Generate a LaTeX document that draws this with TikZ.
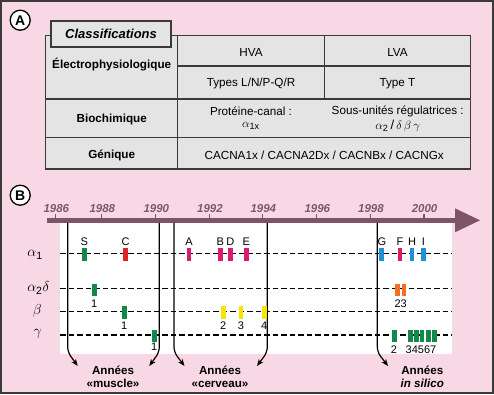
\documentclass[tikz,border=0pt]{standalone}
\usepackage{fontspec}
\setmainfont{Liberation Sans}
\usetikzlibrary{arrows.meta}
\definecolor{bgpink}{HTML}{F8D8E4}
\definecolor{cellgray}{HTML}{E4E4E4}
\definecolor{linegray}{HTML}{3A3A3A}
\definecolor{barcol}{HTML}{7E5566}
\definecolor{yearcol}{HTML}{7A5A6A}
\definecolor{mgreen}{HTML}{13884A}
\definecolor{mred}{HTML}{E3232C}
\definecolor{mmag}{HTML}{DD1A6E}
\definecolor{mblue}{HTML}{2290D6}
\definecolor{morange}{HTML}{F26E22}
\definecolor{myellow}{HTML}{F6E500}
\begin{document}
\begin{tikzpicture}[x=1pt,y=-1pt,
  tabtxt/.style={font=\fontsize{11.7}{14}\selectfont, inner sep=0pt, align=center},
  tabhead/.style={font=\fontsize{11.7}{14}\selectfont\bfseries, inner sep=0pt},
  yr/.style={font=\fontsize{11.5}{13}\selectfont\bfseries\itshape, text=yearcol, inner sep=0pt},
  rowlab/.style={font=\fontsize{15}{16}\selectfont, inner sep=0pt},
  mklab/.style={font=\fontsize{11}{12}\selectfont, inner sep=0pt},
  mk/.style={minimum width=4.6pt, minimum height=12.3pt, inner sep=0pt, fill=#1},
  dline/.style={dash pattern=on 5.5pt off 3pt, line width=1.4pt},
  vline/.style={line width=1.2pt, rounded corners=5pt, -{Stealth[length=7pt,width=5.5pt]}},
  era/.style={font=\fontsize{11.6}{13}\selectfont\bfseries, align=center, inner sep=0pt},
  circlab/.style={circle, draw, line width=1.3pt, fill=white, minimum size=20pt, inner sep=0pt, font=\fontsize{14}{14}\selectfont\bfseries}
]
\useasboundingbox (0,0) rectangle (494,394);
\fill[bgpink] (0,0) rectangle (494,394);
\draw[linegray, line width=2pt] (1,1) rectangle (493,393);

% ---------- Panel A ----------
\node[circlab] (labA) at (20.2,20.2) {A};
\fill[cellgray] (45.7,35.7) rectangle (470.7,169);
\draw[linegray, line width=1.2pt] (45.7,35.7) rectangle (470.7,169);
\draw[linegray, line width=1.2pt] (177.7,35.7) -- (177.7,169);
\draw[linegray, line width=1.2pt] (324.3,35.7) -- (324.3,99);
\draw[linegray, line width=1.2pt] (177.7,66) -- (470.7,66);
\draw[linegray, line width=1.2pt] (45.7,99) -- (470.7,99);
\draw[linegray, line width=1.2pt] (45.7,137.3) -- (470.7,137.3);
\node[draw=linegray, line width=1.7pt, fill=cellgray, minimum width=120pt, minimum height=26pt, inner sep=0pt,
      font=\fontsize{13}{15}\selectfont\bfseries\itshape] (cls) at (111,34) {Classifications};

\node[tabhead] (elec) at (111.7,65) {Électrophysiologique};
\node[tabtxt] (hva) at (251,52.3) {HVA};
\node[tabtxt] (lva) at (397.5,52.3) {LVA};
\node[tabtxt] (typlnpqr) at (251,83.3) {Types L/N/P-Q/R};
\node[tabtxt] (typt) at (397.5,83.3) {Type T};
\node[tabhead] (bioch) at (111.7,119) {Biochimique};
\node[tabtxt] (prot) at (251,111) {Protéine-canal :};
\node[tabtxt, font=\fontsize{13}{14}\selectfont] (prota) at (251,125.5) {$\alpha_{\mathrm{1x}}$};
\node[tabtxt] (sous) at (397.7,111) {Sous-unités régulatrices :};
\node[tabtxt, font=\fontsize{13}{14}\selectfont] (sousa) at (397.7,125.5) {$\alpha_{\mathrm{2}}$\,/\,$\delta\,\beta\,\gamma$};
\node[tabhead] (geni) at (111.7,155.7) {Génique};
\node[tabtxt] (cacn) at (324.2,155.7) {CACNA1x / CACNA2Dx / CACNBx / CACNGx};

% ---------- Panel B ----------
\node[circlab] (labB) at (20.2,195.2) {B};
\fill[white] (60,222.7) rectangle (452.3,354);
\fill[barcol] (47.3,217.7) rectangle (456,222.9);
\fill[barcol] (455,208.3) -- (480,220.3) -- (455,232.3) -- cycle;
\foreach \xx/\yy in {55.7/1986,101.7/1988,155.7/1990,209.3/1992,262.7/1994,316.7/1996,370.3/1998,424/2000}{
  \draw[barcol, line width=1.2pt] (\xx,214) -- (\xx,218.5);
  \node[yr] (y\yy) at (\xx+0.6,209) {\yy};
}

% dashed lines
\draw[dline] (60,253.3) -- (452.3,253.3);
\draw[dline] (60,288.3) -- (452.3,288.3);
\draw[dline] (60,311.7) -- (452.3,311.7);
\draw[dline] (60,335) -- (452.3,335);

% row labels
\node[rowlab] (ra1) at (35,255) {$\alpha_{\mathrm{1}}$};
\node[rowlab] (ra2d) at (38.3,288) {$\alpha_{\mathrm{2}}\delta$};
\node[rowlab] (rb) at (37.3,310.5) {$\beta$};
\node[rowlab] (rg) at (37.7,333.5) {$\gamma$};

% vertical arrows
\coordinate (v1t) at (67.7,222.9);  \coordinate (v1b) at (67.7,352); \coordinate (v1e) at (77.7,366);
\coordinate (v2t) at (159.3,222.9); \coordinate (v2b) at (159.3,352); \coordinate (v2e) at (149.3,366);
\coordinate (v3t) at (174,222.9);   \coordinate (v3b) at (174,352);   \coordinate (v3e) at (184.5,366);
\coordinate (v4t) at (267.3,222.9); \coordinate (v4b) at (267.3,352); \coordinate (v4e) at (257,366);
\coordinate (v5t) at (377.3,222.9); \coordinate (v5b) at (377.3,352); \coordinate (v5e) at (388,366);
\draw[vline] (v1t) -- (v1b) -- (v1e);
\draw[vline] (v2t) -- (v2b) -- (v2e);
\draw[vline] (v3t) -- (v3b) -- (v3e);
\draw[vline] (v4t) -- (v4b) -- (v4e);
\draw[vline] (v5t) -- (v5b) -- (v5e);

% alpha1 markers
\node[mk=mgreen] (mS) at (84.3,254.5) {};
\node[mk=mred] (mC) at (125.7,254.5) {};
\node[mk=mmag] (mA) at (189,254.5) {};
\node[mk=mmag] (mB) at (220.3,254.5) {};
\node[mk=mmag] (mD) at (230.3,254.5) {};
\node[mk=mmag] (mE) at (246.3,254.5) {};
\node[mk=mblue] (mG) at (381.7,254.5) {};
\node[mk=mmag] (mF) at (400,254.5) {};
\node[mk=mblue] (mH) at (412,254.5) {};
\node[mk=mblue] (mI) at (423.3,254.5) {};
\foreach \n/\xx in {S/84.3,C/125.7,A/189,B/220.3,D/230.3,E/246.3,G/382,F/400,H/412,I/423.3}{
  \node[mklab] (l\n) at (\xx,242) {\n};
}

% alpha2delta markers
\node[mk=mgreen] (md1) at (94.3,289.8) {};
\node[mk=morange] (md2) at (397.3,289.8) {};
\node[mk=morange] (md3) at (404,289.8) {};
\node[mklab] (ld1) at (94.3,303.3) {1};
\node[mklab] (ld23) at (400.7,303.3) {23};

% beta markers
\node[mk=mgreen] (mb1) at (124.3,312.5) {};
\node[mk=myellow] (mb2) at (223.3,312.5) {};
\node[mk=myellow] (mb3) at (241,312.5) {};
\node[mk=myellow] (mb4) at (264.3,312.5) {};
\node[mklab] (lb1) at (124.3,325.5) {1};
\node[mklab] (lb2) at (223.3,325.5) {2};
\node[mklab] (lb3) at (241,325.5) {3};
\node[mklab] (lb4) at (264.3,325.5) {4};

% gamma markers
\node[mk=mgreen] (mg1) at (154.3,335.8) {};
\node[mk=mgreen] (mg2) at (394.5,335.8) {};
\node[mk=mgreen] (mg3) at (410.5,335.8) {};
\node[mk=mgreen] (mg4) at (416.3,335.8) {};
\node[mk=mgreen] (mg5) at (422,335.8) {};
\node[mk=mgreen] (mg6) at (428.3,335.8) {};
\node[mk=mgreen] (mg7) at (434.2,335.8) {};
\node[mklab] (lg1) at (154.3,347) {1};
\node[mklab] (lg2) at (394,349.3) {2};
\node[mklab] (lg37) at (421,349.3) {34567};

% era labels
\node[era] (emus) at (113,376.5) {Années\\«muscle»};
\node[era] (ecer) at (220,376.5) {Années\\«cerveau»};
\node[era] (esil) at (422.3,376.5) {Années\\\textit{in silico}};
\end{tikzpicture}
\end{document}
